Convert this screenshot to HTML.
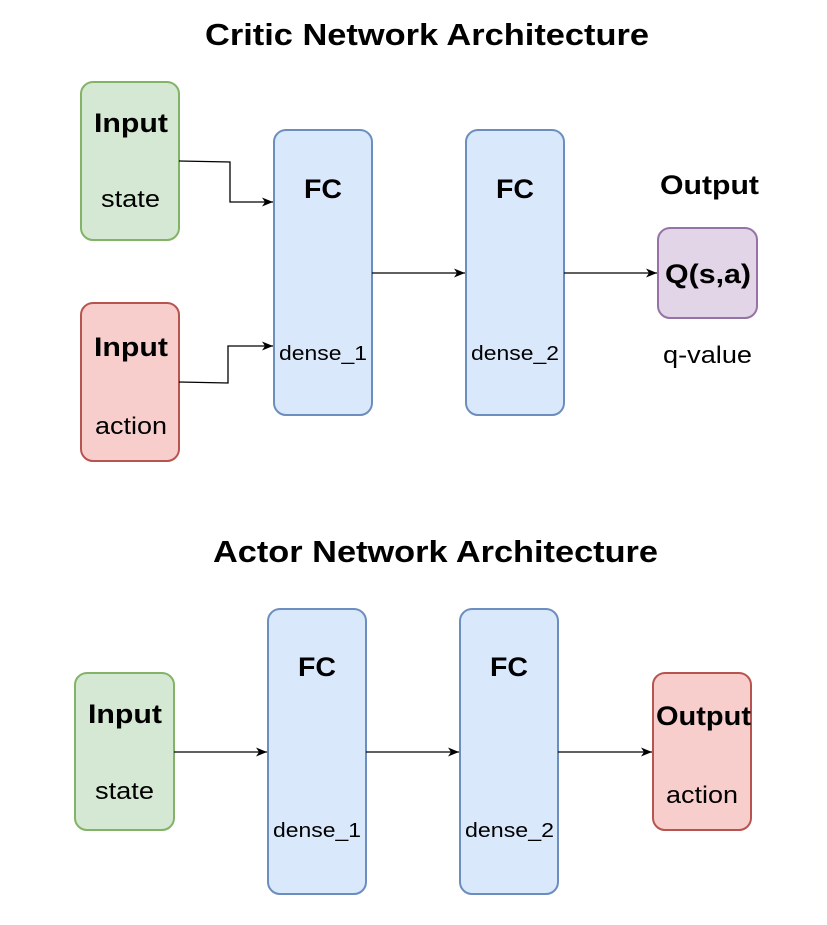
<!DOCTYPE html>
<html><head><style>
body{margin:0;background:#fff;}
svg text{font-family:"Liberation Sans",Arial,sans-serif;fill:#000;}
</style></head><body>
<svg width="827" height="920" viewBox="0 0 827 920" xmlns="http://www.w3.org/2000/svg">
<defs><marker id="a" markerWidth="12" markerHeight="12" refX="11" refY="6" orient="auto" markerUnits="userSpaceOnUse"><path d="M0,1.5 L11,6 L0,10.5 L3,6 Z" fill="#000"/></marker></defs>
<g lengthAdjust="spacingAndGlyphs">
<text x="205" y="45" font-size="31" font-weight="bold" textLength="444" lengthAdjust="spacingAndGlyphs">Critic Network Architecture</text>
<rect x="81" y="82" width="98" height="158" rx="12" fill="#d5e8d4" stroke="#82b366" stroke-width="2"/>
<text x="94" y="132" font-size="27" font-weight="bold" textLength="74" lengthAdjust="spacingAndGlyphs">Input</text>
<text x="101" y="207" font-size="24" textLength="59" lengthAdjust="spacingAndGlyphs">state</text>
<rect x="81" y="303" width="98" height="158" rx="12" fill="#f8cecc" stroke="#b85450" stroke-width="2"/>
<text x="94" y="356" font-size="27" font-weight="bold" textLength="74" lengthAdjust="spacingAndGlyphs">Input</text>
<text x="95" y="434" font-size="24" textLength="72" lengthAdjust="spacingAndGlyphs">action</text>
<rect x="274" y="130" width="98" height="285" rx="12" fill="#dae8fc" stroke="#6c8ebf" stroke-width="2"/>
<text x="304" y="198" font-size="27" font-weight="bold" textLength="38" lengthAdjust="spacingAndGlyphs">FC</text>
<text x="279" y="360" font-size="20" textLength="88" lengthAdjust="spacingAndGlyphs">dense_1</text>
<rect x="466" y="130" width="98" height="285" rx="12" fill="#dae8fc" stroke="#6c8ebf" stroke-width="2"/>
<text x="496" y="198" font-size="27" font-weight="bold" textLength="38" lengthAdjust="spacingAndGlyphs">FC</text>
<text x="471" y="360" font-size="20" textLength="88" lengthAdjust="spacingAndGlyphs">dense_2</text>
<text x="660" y="194" font-size="27" font-weight="bold" textLength="99" lengthAdjust="spacingAndGlyphs">Output</text>
<rect x="658" y="228" width="99" height="90" rx="12" fill="#e1d5e7" stroke="#9673a6" stroke-width="2"/>
<text x="665" y="283" font-size="27" font-weight="bold" textLength="86" lengthAdjust="spacingAndGlyphs">Q(s,a)</text>
<text x="663" y="363" font-size="24" textLength="89" lengthAdjust="spacingAndGlyphs">q-value</text>
<g fill="none" stroke="#000" stroke-width="1.3">
<path d="M179,161 L230,162 L230,202 L273,202" marker-end="url(#a)"/>
<path d="M179,382 L228,383 L228,346 L273,346" marker-end="url(#a)"/>
<path d="M372,273 L465,273" marker-end="url(#a)"/>
<path d="M564,273 L657,273" marker-end="url(#a)"/>
</g>
<text x="213" y="562" font-size="31" font-weight="bold" textLength="445" lengthAdjust="spacingAndGlyphs">Actor Network Architecture</text>
<rect x="75" y="673" width="99" height="157" rx="12" fill="#d5e8d4" stroke="#82b366" stroke-width="2"/>
<text x="88" y="723" font-size="27" font-weight="bold" textLength="74" lengthAdjust="spacingAndGlyphs">Input</text>
<text x="95" y="799" font-size="24" textLength="59" lengthAdjust="spacingAndGlyphs">state</text>
<rect x="268" y="609" width="98" height="285" rx="12" fill="#dae8fc" stroke="#6c8ebf" stroke-width="2"/>
<text x="298" y="676" font-size="27" font-weight="bold" textLength="38" lengthAdjust="spacingAndGlyphs">FC</text>
<text x="273" y="837" font-size="20" textLength="88" lengthAdjust="spacingAndGlyphs">dense_1</text>
<rect x="460" y="609" width="98" height="285" rx="12" fill="#dae8fc" stroke="#6c8ebf" stroke-width="2"/>
<text x="490" y="676" font-size="27" font-weight="bold" textLength="38" lengthAdjust="spacingAndGlyphs">FC</text>
<text x="465" y="837" font-size="20" textLength="89" lengthAdjust="spacingAndGlyphs">dense_2</text>
<rect x="653" y="673" width="98" height="157" rx="12" fill="#f8cecc" stroke="#b85450" stroke-width="2"/>
<text x="656" y="725" font-size="27" font-weight="bold" textLength="95" lengthAdjust="spacingAndGlyphs">Output</text>
<text x="666" y="803" font-size="24" textLength="72" lengthAdjust="spacingAndGlyphs">action</text>
<g fill="none" stroke="#000" stroke-width="1.3">
<path d="M174,752 L267,752" marker-end="url(#a)"/>
<path d="M366,752 L459,752" marker-end="url(#a)"/>
<path d="M558,752 L652,752" marker-end="url(#a)"/>
</g>
</g>
</svg>
</body></html>
